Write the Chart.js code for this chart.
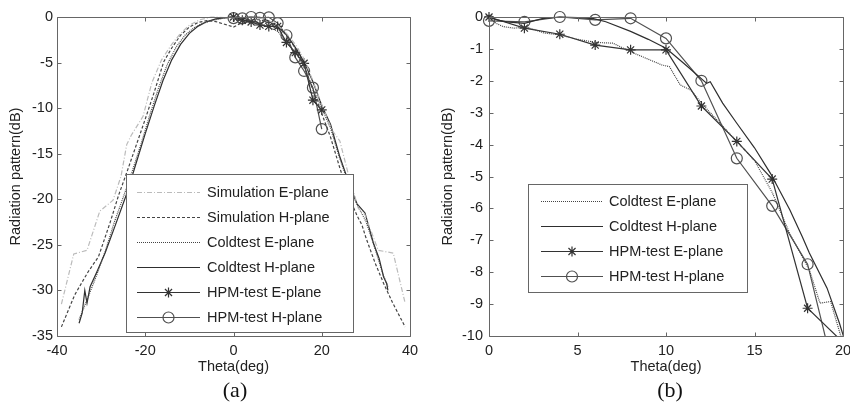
<!DOCTYPE html>
<html>
<head>
<meta charset="utf-8">
<script src="https://cdn.jsdelivr.net/npm/chart.js@4.4.1/dist/chart.umd.min.js"></script>
<style>
  body { margin: 0; background: #fff; }
  #wrap { position: relative; width: 850px; height: 412px; overflow: hidden; background: #fff; }
  canvas { position: absolute; top: 0; }
  #plotA { left: 0; }
  #plotB { left: 425px; }
  .cap { position: absolute; top: 378px; line-height: 24px; font-size: 22px; font-family: "Liberation Serif", "DejaVu Serif", serif; color: #111; transform: translateX(-50%); }
</style>
</head>
<body>
<div id="wrap">
  <canvas id="plotA" width="425" height="412"></canvas>
  <canvas id="plotB" width="425" height="412"></canvas>
  <div class="cap" style="left:235px">(a)</div>
  <div class="cap" style="left:670px">(b)</div>
</div>
<script>
const FONT = '"Liberation Sans", Arial, sans-serif';
const FONT_SIZE = 14.5;

// ---- (a) whole pattern, theta -40..40 ----
const simETheta = [-39, -36.2, -33.2, -30.3, -27.3, -25.5, -24.2, -23.2, -20.5, -18.5, -16.3, -14, -12, -10, -7.6, -5, 0, 5, 7.6, 10, 12, 14, 16, 18, 20, 22.3, 24.1, 26, 28.3, 29.8, 32.8, 36.2, 38.9];
const simEdB = [-31.5, -26, -25.6, -21.3, -20.1, -17.5, -14, -13, -10.9, -7.2, -4.7, -3.0, -1.8, -0.9, -0.3, 0, -0.1, 0, -0.3, -0.9, -1.8, -3.0, -4.6, -7.0, -9.6, -12.4, -13.6, -17.2, -21, -21.7, -25.6, -25.9, -31.4];

const simHTheta = [-39, -36, -33, -30.6, -28, -26, -24, -22, -20, -18, -15.8, -14, -12, -10, -8, -6, -4, -2, 0, 2, 4, 6, 8, 10, 12, 14, 16, 18, 20, 22, 24, 26, 28, 29.1, 30, 32.1, 34, 36, 38.9];
const simHdB = [-34, -30.5, -28, -26.3, -22.6, -19.5, -16.8, -14, -11.2, -8.3, -4.9, -3.4, -2, -1.1, -0.6, -0.4, -0.5, -0.8, -1.1, -0.6, -0.3, -0.3, -0.6, -1.1, -2, -3.4, -5.3, -8, -10.6, -13.2, -16.4, -19.5, -21.8, -22.8, -24.2, -27, -29.2, -31.3, -34];

const coldETheta = [-35, -33, -31, -29, -27, -25, -23, -21, -19, -17, -15, -13, -11, -9, -7, -5, -3, -1, 0, 0.8, 2, 3, 4, 6, 8, 10, 12, 14, 16, 18, 20, 22, 24, 26, 28, 30, 32, 34, 35];
const coldEdB = [-33.2, -30.8, -28.3, -25.6, -22.5, -19.8, -17, -14, -10.8, -7.8, -5.2, -3.3, -2, -1.2, -0.7, -0.4, -0.2, -0.05, 0, -0.35, -0.32, -0.56, -0.56, -0.8, -1.09, -1.56, -2.7, -3.9, -5.4, -7.9, -10, -12.2, -15.4, -18.2, -20.6, -22.4, -25.3, -28.4, -29.6];

const coldHTheta = [-35, -34.3, -33.7, -33.2, -32.5, -31, -29.1, -26.9, -24.2, -22.3, -20, -18, -16, -14, -12, -10, -8, -6, -4, -2, 0, 1, 2, 3, 4, 6, 8, 10, 12, 14, 16, 18, 20, 22, 24, 26, 27, 28, 29.8, 31.7, 33, 34, 34.7, 35];
const coldHdB = [-33.6, -32.5, -30, -31.4, -29.6, -28, -25.9, -23, -19.4, -16.4, -12.8, -9.8, -7, -4.7, -3, -1.8, -1.0, -0.5, -0.2, -0.1, 0, -0.15, -0.2, -0.05, 0, -0.05, -0.45, -0.98, -1.9, -3.33, -4.95, -7.1, -9.7, -11.8, -15.2, -18, -19.3, -20.5, -21.5, -24.8, -26.5, -28.5, -29.2, -30];

// HPM measurements, shared by both panels
const hpmTheta = [0, 2, 4, 6, 8, 10, 12, 14, 16, 18, 20];
const hpmEdB = [0, -0.35, -0.54, -0.88, -1.03, -1.03, -2.79, -3.9, -5.08, -9.13, -10.2];
const hpmHdB = [-0.12, -0.15, 0, -0.09, -0.04, -0.67, -2.0, -4.43, -5.92, -7.75, -12.3];

// ---- (b) main lobe, theta 0..20 ----
const coldEThetaB = [0, 0.4, 0.8, 1.4, 2, 2.6, 3.1, 4, 5, 6.1, 7, 8, 8.9, 9.75, 10.2, 10.8, 11.4, 12.1, 13, 14, 15, 16, 17, 18.1, 18.7, 19.3, 19.8, 20.2];
const coldEdBB = [0, -0.2, -0.3, -0.35, -0.32, -0.4, -0.5, -0.56, -0.7, -0.8, -0.82, -1.09, -1.3, -1.5, -1.56, -2.13, -2.29, -2.76, -3.3, -3.9, -4.5, -5.5, -6.8, -7.93, -8.97, -8.92, -9.86, -10.6];

const coldHThetaB = [0, 0.5, 1, 2, 3, 4, 5, 5.9, 6.6, 8, 9, 10, 11, 12.3, 12.5, 13.2, 14, 15, 15.9, 17, 17.7, 18.1, 19.1, 19.8, 20.3];
const coldHdBB = [0, -0.1, -0.15, -0.2, -0.05, 0, -0.02, -0.05, -0.15, -0.45, -0.7, -0.98, -1.45, -2.08, -2.03, -2.7, -3.33, -4.1, -4.9, -6.05, -6.89, -7.4, -8.5, -9.6, -10.5];

// tick labels
const xTicksA = [-40, -20, 0, 20, 40];
const yTicksA = [0, -5, -10, -15, -20, -25, -30, -35];
const xTicksB = [0, 5, 10, 15, 20];
const yTicksB = [0, -1, -2, -3, -4, -5, -6, -7, -8, -9, -10];

const labels = {
    simE: 'Simulation E-plane',
    simH: 'Simulation H-plane',
    coldE: 'Coldtest E-plane',
    coldH: 'Coldtest H-plane',
    hpmE: 'HPM-test E-plane',
    hpmH: 'HPM-test H-plane'
};

const looks = {
    simE: { color: '#bbbbbb', dash: [5, 2, 1, 2] },
    simH: { color: '#444', dash: [3, 2] },
    coldE: { color: '#444', dash: [1, 1] },
    coldH: { color: '#2e2e2e' },
    hpmE: { color: '#333', marker: 'star', r: 5 },
    hpmH: { color: '#505050', marker: 'circle', r: 5.5 }
};

function toPoints(xs, ys) {
    return xs.map((x, i) => ({ x: x, y: ys[i] }));
}

function series(key, xs, ys) {
    const look = looks[key];
    return {
        label: labels[key],
        data: toPoints(xs, ys),
        showLine: true,
        tension: 0,
        fill: false,
        borderColor: look.color,
        borderWidth: 1.2,
        borderDash: look.dash || [],
        pointStyle: look.marker || 'circle',
        pointRadius: look.marker ? look.r : 0,
        pointHoverRadius: 0,
        pointBorderColor: look.color,
        pointBackgroundColor: 'rgba(0,0,0,0)',
        pointBorderWidth: 1.2,
        clip: { left: 8, top: 8, right: 0, bottom: 0 },
        _look: look
    };
}

// box with inward ticks on all four sides, matlab style
const framePlugin = {
    id: 'frame',
    afterDatasetsDraw(chart) {
        const { ctx, chartArea: a, scales } = chart;
        const l = Math.round(a.left) + 0.5, r = Math.round(a.right) + 0.5;
        const t = Math.round(a.top) + 0.5, b = Math.round(a.bottom) + 0.5;
        ctx.save();
        ctx.strokeStyle = '#666';
        ctx.lineWidth = 1;
        ctx.setLineDash([]);
        ctx.beginPath();
        ctx.rect(l, t, r - l, b - t);
        scales.x.ticks.forEach(tk => {
            const px = Math.round(scales.x.getPixelForValue(tk.value)) + 0.5;
            ctx.moveTo(px, b); ctx.lineTo(px, b - 4);
            ctx.moveTo(px, t); ctx.lineTo(px, t + 4);
        });
        scales.y.ticks.forEach(tk => {
            const py = Math.round(scales.y.getPixelForValue(tk.value)) + 0.5;
            ctx.moveTo(l, py); ctx.lineTo(l + 4, py);
            ctx.moveTo(r, py); ctx.lineTo(r - 4, py);
        });
        ctx.stroke();
        ctx.restore();
    }
};

function drawMarker(ctx, kind, x, y, r) {
    ctx.beginPath();
    if (kind === 'circle') {
        ctx.arc(x, y, r, 0, Math.PI * 2);
    } else {
        const d = r * Math.SQRT1_2;
        ctx.moveTo(x - r, y); ctx.lineTo(x + r, y);
        ctx.moveTo(x, y - r); ctx.lineTo(x, y + r);
        ctx.moveTo(x - d, y - d); ctx.lineTo(x + d, y + d);
        ctx.moveTo(x - d, y + d); ctx.lineTo(x + d, y - d);
    }
    ctx.stroke();
}

// legend sitting inside the axes
const boxLegendPlugin = {
    id: 'boxLegend',
    afterDraw(chart, args, opts) {
        const ctx = chart.ctx;
        const [bx, by, bw, bh] = opts.box;
        ctx.save();
        ctx.fillStyle = '#fff';
        ctx.fillRect(bx, by, bw, bh);
        ctx.strokeStyle = '#666';
        ctx.lineWidth = 1;
        ctx.strokeRect(bx + 0.5, by + 0.5, bw, bh);
        ctx.font = FONT_SIZE + 'px ' + FONT;
        ctx.textBaseline = 'middle';
        chart.data.datasets.forEach((ds, i) => {
            const y = Math.round(opts.rows[i]) + 0.5;
            const look = ds._look;
            ctx.strokeStyle = look.color;
            ctx.lineWidth = 1.2;
            ctx.setLineDash(look.dash || []);
            ctx.beginPath();
            ctx.moveTo(opts.sample[0], y);
            ctx.lineTo(opts.sample[1], y);
            ctx.stroke();
            ctx.setLineDash([]);
            if (look.marker) {
                drawMarker(ctx, look.marker, (opts.sample[0] + opts.sample[1]) / 2, y, look.r);
            }
            ctx.fillStyle = '#222';
            ctx.fillText(ds.label, opts.textX, y);
        });
        ctx.restore();
    }
};

function axes(xMin, xMax, xTicks, yMin, yMax, yTicks, yWidth, yTitlePad, yTickPad) {
    const tickFont = { family: FONT, size: FONT_SIZE };
    return {
        x: {
            type: 'linear',
            min: xMin,
            max: xMax,
            afterBuildTicks: s => { s.ticks = xTicks.map(v => ({ value: v })); },
            afterFit: s => { s.height = 44; s.paddingLeft = 0; s.paddingRight = 0; },
            grid: { display: false, drawTicks: false },
            border: { display: false },
            ticks: { color: '#222', font: tickFont, padding: 6, maxRotation: 0, autoSkip: false },
            title: { display: true, text: 'Theta(deg)', color: '#222', font: tickFont, padding: { top: 0, bottom: 4 } }
        },
        y: {
            type: 'linear',
            min: yMin,
            max: yMax,
            afterBuildTicks: s => { s.ticks = yTicks.map(v => ({ value: v })); },
            afterFit: s => { s.width = yWidth; },
            grid: { display: false, drawTicks: false },
            border: { display: false },
            ticks: { color: '#222', font: tickFont, padding: yTickPad, autoSkip: false },
            title: { display: true, text: 'Radiation pattern(dB)', color: '#222', font: tickFont, padding: { top: yTitlePad, bottom: 0 } }
        }
    };
}

new Chart(document.getElementById('plotA'), {
    type: 'scatter',
    data: {
        datasets: [
            series('simE', simETheta, simEdB),
            series('simH', simHTheta, simHdB),
            series('coldE', coldETheta, coldEdB),
            series('coldH', coldHTheta, coldHdB),
            series('hpmE', hpmTheta, hpmEdB),
            series('hpmH', hpmTheta, hpmHdB)
        ]
    },
    options: {
        responsive: false,
        animation: false,
        devicePixelRatio: 1,
        layout: { padding: { top: 17, right: 15, bottom: 32, left: 0 } },
        scales: axes(-40, 40, xTicksA, -35, 0, yTicksA, 57, 7, 4),
        plugins: {
            legend: { display: false },
            tooltip: { enabled: false },
            boxLegend: {
                box: [126, 174, 227, 158],
                rows: [192, 217, 242, 267, 292, 317],
                sample: [137, 200],
                textX: 207
            }
        }
    },
    plugins: [framePlugin, boxLegendPlugin]
});

new Chart(document.getElementById('plotB'), {
    type: 'scatter',
    data: {
        datasets: [
            series('coldE', coldEThetaB, coldEdBB),
            series('coldH', coldHThetaB, coldHdBB),
            series('hpmE', hpmTheta, hpmEdB),
            series('hpmH', hpmTheta, hpmHdB)
        ]
    },
    options: {
        responsive: false,
        animation: false,
        devicePixelRatio: 1,
        layout: { padding: { top: 17, right: 7, bottom: 32, left: 0 } },
        scales: axes(0, 20, xTicksB, -10, 0, yTicksB, 64, 14, 6),
        plugins: {
            legend: { display: false },
            tooltip: { enabled: false },
            boxLegend: {
                box: [103, 184, 219, 108],
                rows: [201, 226, 251, 276],
                sample: [116, 178],
                textX: 184
            }
        }
    },
    plugins: [framePlugin, boxLegendPlugin]
});
</script>
</body>
</html>
